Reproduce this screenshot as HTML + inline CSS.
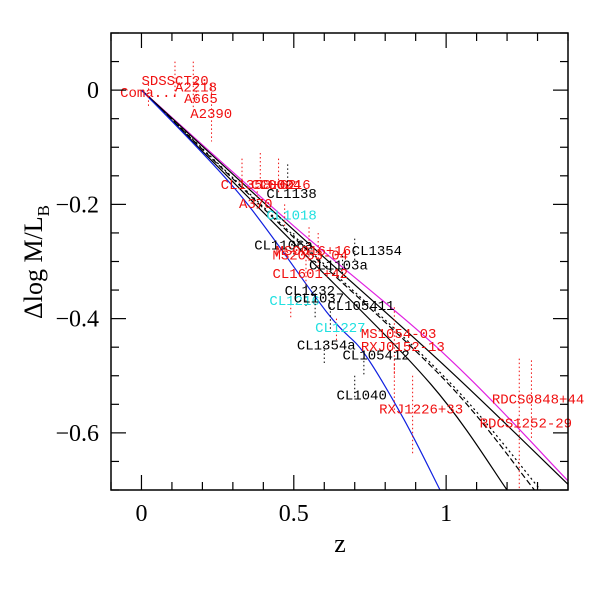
<!DOCTYPE html>
<html><head><meta charset="utf-8"><style>
html,body{margin:0;padding:0;background:#fff;}
svg{display:block;font-family:"Liberation Serif",serif;}
</style></head><body>
<svg id="chart" width="600" height="600" viewBox="0 0 600 600" xmlns="http://www.w3.org/2000/svg">
<rect x="0" y="0" width="600" height="600" fill="#fff"/>
<g id="curves"></g>
<g id="points"></g>
<g id="axes"></g>
<text x="340" y="552" font-size="26" text-anchor="middle">z</text>
<text transform="translate(42,262) rotate(-90)" font-size="26" text-anchor="middle">Δlog M/L<tspan font-size="17" dy="7">B</tspan></text>
</svg>
<script>
// axis domain
const xDomain = [-0.1, 1.4];
const yDomain = [-0.7, 0.1];
const xTickLabels = ["0", "0.5", "1"];
const xTickValues = [0, 0.5, 1];
const yTickLabels = ["0", "\u22120.2", "\u22120.4", "\u22120.6"];
const yTickValues = [0, -0.2, -0.4, -0.6];

// model curves (z, delta log M/L)
const magentaZ = [0, 0.5, 1, 1.4];
const magentaV = [0, -0.238, -0.465, -0.684];
const upperZ = [0, 0.5, 1, 1.4];
const upperV = [0, -0.245, -0.485, -0.69];
const lowerZ = [0, 0.5, 0.95, 1.2];
const lowerV = [0, -0.268, -0.515, -0.7];
const dashZ = [0, 0.5, 1, 1.29];
const dashV = [0, -0.258, -0.51, -0.7];
const dotZ = [0, 0.5, 1, 1.31];
const dotV = [0, -0.255, -0.505, -0.7];
const blueZ = [0, 0.32, 0.61, 0.73, 0.86, 0.98];
const blueV = [0, -0.181, -0.39, -0.46, -0.575, -0.7];

// clusters
const names = ["Coma...","SDSSCT20","A2218","A665","A2390","CL1358+62","CL0024","CL0016","A370","CL1138","CL1018","CL1106a","MS0016+16","MS2053-04","CL1354","CL1103a","CL1601+42","CL1232","CL1216","CL1037","CL105411","CL1227","MS1054-03","CL1354a","RXJ0152-13","CL105412","CL1040","RXJ1226+33","RDCS0848+44","RDCS1252-29"];
const colors = ["red","red","red","red","red","red","red","red","red","black","cyan","black","red","red","black","black","red","black","cyan","black","black","cyan","red","black","red","black","black","red","red","red"];
const zVals = [0.023,0.11,0.17,0.18,0.23,0.33,0.39,0.45,0.38,0.48,0.47,0.5,0.55,0.58,0.7,0.66,0.54,0.54,0.49,0.57,0.62,0.64,0.83,0.6,0.83,0.73,0.7,0.89,1.24,1.28];
const dVals = [-0.01,0.02,0.01,0.0,-0.04,-0.14,-0.14,-0.15,-0.19,-0.15,-0.22,-0.27,-0.27,-0.28,-0.28,-0.31,-0.32,-0.36,-0.38,-0.38,-0.4,-0.42,-0.44,-0.46,-0.52,-0.48,-0.52,-0.57,-0.585,-0.543];
const errVals = [0.02,0.03,0.04,0.02,0.05,0.02,0.03,0.03,0.02,0.02,0.02,0.02,0.03,0.03,0.02,0.02,0.03,0.02,0.02,0.02,0.02,0.02,0.06,0.02,0.04,0.02,0.02,0.07,0.115,0.07];
const labelZ = [-0.07,-0.0,0.11,0.14,0.16,0.26,0.36,0.39,0.32,0.41,0.41,0.37,0.44,0.43,0.69,0.55,0.43,0.47,0.42,0.5,0.61,0.57,0.72,0.51,0.72,0.66,0.64,0.78,1.15,1.11];
const labelV = [-0.003,0.018,0.006,-0.014,-0.04,-0.164,-0.164,-0.164,-0.198,-0.18,-0.218,-0.27,-0.28,-0.288,-0.28,-0.305,-0.32,-0.35,-0.367,-0.363,-0.376,-0.415,-0.425,-0.445,-0.448,-0.463,-0.533,-0.557,-0.54,-0.582];

const L = 111, R = 568, T = 33, B = 490;
const NS = "http://www.w3.org/2000/svg";
function xs(z){ return L + (z - xDomain[0]) / (xDomain[1] - xDomain[0]) * (R - L); }
function ys(v){ return B - (v - yDomain[0]) / (yDomain[1] - yDomain[0]) * (B - T); }
function mk(tag, attrs, parent){ const e = document.createElementNS(NS, tag); for (const k in attrs) e.setAttribute(k, attrs[k]); parent.appendChild(e); return e; }

const cg = document.getElementById("curves");
const defsClip = mk("clipPath", {id:"clip"}, document.getElementById("chart"));
mk("rect", {x:L, y:T, width:R-L, height:B-T}, defsClip);
cg.setAttribute("clip-path", "url(#clip)");
function smoothPath(zs, vs){
  const p = zs.map((z,i)=>[xs(z), ys(vs[i])]);
  let d = "M" + p[0][0] + "," + p[0][1];
  for (let i = 0; i < p.length - 1; i++) {
    const p0 = p[Math.max(0,i-1)], p1 = p[i], p2 = p[i+1], p3 = p[Math.min(p.length-1,i+2)];
    const c1 = [p1[0] + (p2[0]-p0[0])/6, p1[1] + (p2[1]-p0[1])/6];
    const c2 = [p2[0] - (p3[0]-p1[0])/6, p2[1] - (p3[1]-p1[1])/6];
    d += " C" + c1 + " " + c2 + " " + p2;
  }
  return d;
}
const curveSpecs = [
  [magentaZ, magentaV, "#e020e0", "", "magenta-model-line"],
  [upperZ, upperV, "#000", "", "upper-model-line"],
  [lowerZ, lowerV, "#000", "", "lower-model-line"],
  [dashZ, dashV, "#000", "6,3", "dashed-model-line"],
  [dotZ, dotV, "#000", "2,3", "dotted-model-line"],
  [blueZ, blueV, "#1020e0", "", "blue-model-line"]
];
curveSpecs.forEach(s => {
  const p = mk("path", {d: smoothPath(s[0], s[1]), fill:"none", stroke:s[2], "stroke-width":1.2, "stroke-dasharray":s[3]}, cg);
  
  
});

const pg = document.getElementById("points");
names.forEach((n, i) => {
  const col = colors[i] === "cyan" ? "#20e0e0" : (colors[i] === "red" ? "#f01010" : "#000");
  const eb = mk("line", {x1:xs(zVals[i]), x2:xs(zVals[i]), y1:ys(dVals[i]+errVals[i]), y2:ys(dVals[i]-errVals[i]), stroke: colors[i]==="black" ? "#000" : "#f01010", "stroke-width":1, "stroke-dasharray":"1.5,2.5"}, pg);
  
  
  const t = mk("text", {x:xs(labelZ[i]), y:ys(labelV[i]) + 5, "font-size":14, fill:col, "font-family":"Liberation Mono, monospace"}, pg);
  t.textContent = n;
  
  
});

const ag = document.getElementById("axes");
const frame = mk("rect", {x:L, y:T, width:R-L, height:B-T, fill:"none", stroke:"#000", "stroke-width":1.5}, ag);


for (let k = -1; k <= 14; k++) {
  const z = k / 10, x = xs(z), len = (k % 5 === 0) ? 15 : 8;
  mk("line", {x1:x, x2:x, y1:B, y2:B-len, stroke:"#000", "stroke-width":1.2}, ag);
  mk("line", {x1:x, x2:x, y1:T, y2:T+len, stroke:"#000", "stroke-width":1.2}, ag);
}
for (let k = -14; k <= 2; k++) {
  const v = k * 0.05, y = ys(v), len = (k % 4 === 0) ? 15 : 8;
  mk("line", {x1:L, x2:L+len, y1:y, y2:y, stroke:"#000", "stroke-width":1.2}, ag);
  mk("line", {x1:R, x2:R-len, y1:y, y2:y, stroke:"#000", "stroke-width":1.2}, ag);
}
xTickValues.forEach((v, i) => {
  const t = mk("text", {x:xs(v), y:B+31, "font-size":24, "text-anchor":"middle"}, ag);
  t.textContent = xTickLabels[i];
  
  
});
yTickValues.forEach((v, i) => {
  const t = mk("text", {x:L-12, y:ys(v)+8, "font-size":24, "text-anchor":"end"}, ag);
  t.textContent = yTickLabels[i];
  
  
});
</script>
</body></html>
